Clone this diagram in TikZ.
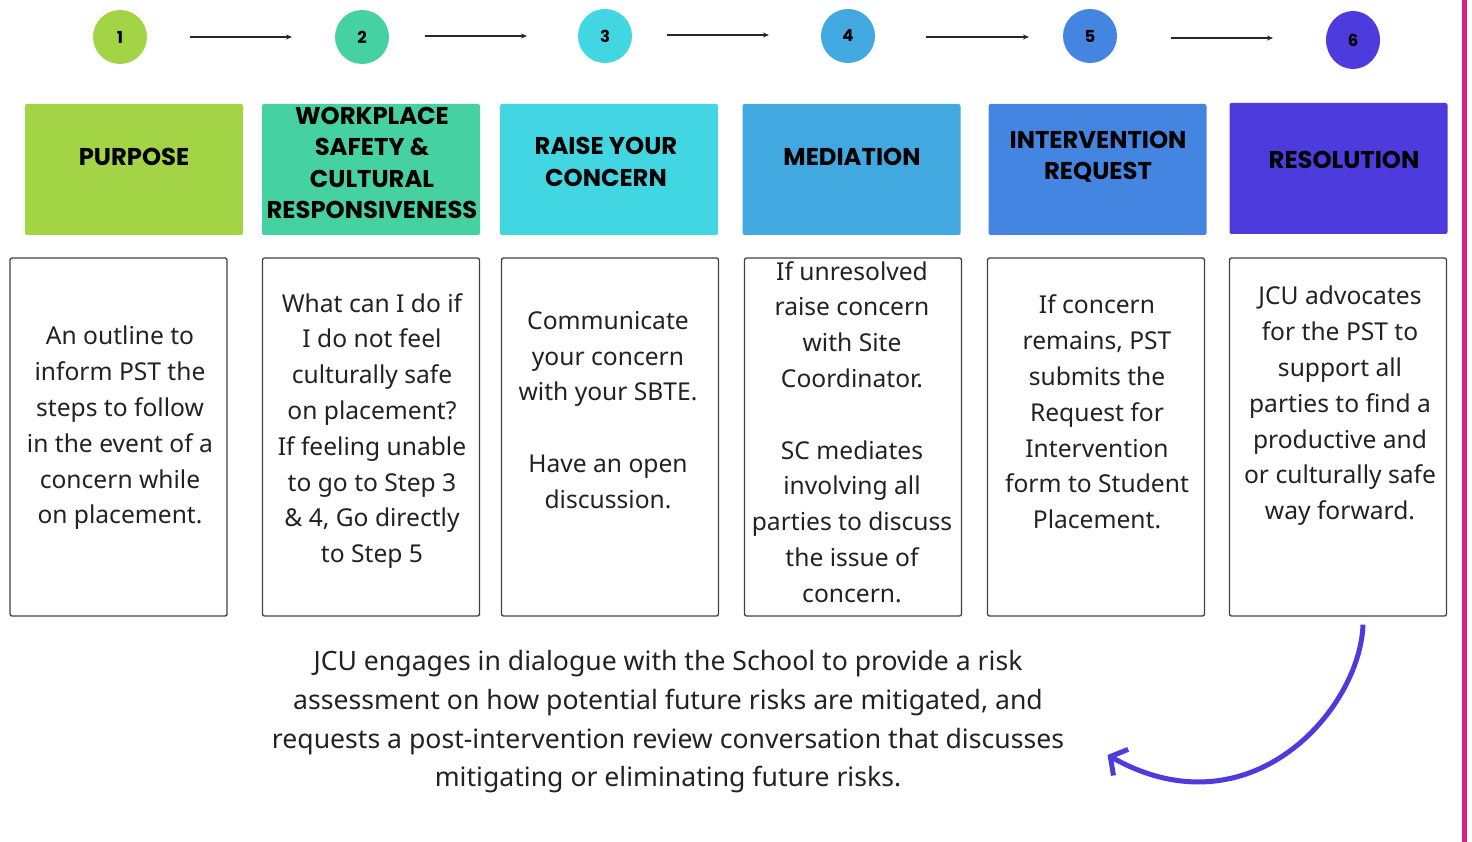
\documentclass[tikz,border=0pt]{standalone}
\usepackage{fontspec}
\setmainfont{Noto Sans}
\newfontfamily\headfont{Poppins}
\usetikzlibrary{arrows.meta,calc,shapes.geometric}
\definecolor{cA}{HTML}{A2D445}
\definecolor{cB}{HTML}{45D1A1}
\definecolor{cC}{HTML}{42D5E2}
\definecolor{cD}{HTML}{42A8E0}
\definecolor{cE}{HTML}{4385E0}
\definecolor{cF}{HTML}{4D3BDE}
\definecolor{pinkline}{HTML}{D9207F}
\definecolor{txt}{HTML}{222222}
\begin{document}
\begin{tikzpicture}[x=1pt,y=-1pt,
  circ/.style={ellipse,minimum width=54pt,minimum height=54pt,inner sep=0pt,font=\headfont\bfseries\fontsize{16.5}{18}\selectfont},
  head/.style={rectangle,rounded corners=2pt,minimum width=218pt,minimum height=131pt,inner sep=0pt},
  htext/.style={align=center,inner sep=0pt,font=\headfont\bfseries\fontsize{24.3}{31.3}\selectfont},
  body/.style={draw=black!75,line width=1.3pt,rounded corners=2pt,minimum width=217pt,minimum height=358pt,inner sep=0pt},
  btext/.style={align=center,text=txt,font=\fontsize{24.6}{35.8}\selectfont},
  flow/.style={-{Stealth[length=6pt,width=5pt]},line width=1.1pt,black!85}
]
\useasboundingbox (0,0) rectangle (1472,842);
\fill[pinkline] (1462,0) rectangle (1466.5,842);

% circles
\node[circ,fill=cA] (c1) at (120,37) {1};
\node[circ,fill=cB] (c2) at (362,37) {2};
\node[circ,fill=cC] (c3) at (605,36) {3};
\node[circ,fill=cD] (c4) at (848,36) {4};
\node[circ,fill=cE] (c5) at (1090,36) {5};
\node[circ,fill=cF,minimum height=58pt] (c6) at (1353,40) {6};

% arrows between circles
\coordinate (a1s) at (190,37); \coordinate (a1e) at (292,37);
\coordinate (a2s) at (425,36); \coordinate (a2e) at (527,36);
\coordinate (a3s) at (667,35); \coordinate (a3e) at (769,35);
\coordinate (a4s) at (926,37); \coordinate (a4e) at (1029,37);
\coordinate (a5s) at (1171,38); \coordinate (a5e) at (1273,38);
\draw[flow] (a1s) -- (a1e);
\draw[flow] (a2s) -- (a2e);
\draw[flow] (a3s) -- (a3e);
\draw[flow] (a4s) -- (a4e);
\draw[flow] (a5s) -- (a5e);

% heading boxes
\node[head,fill=cA] (h1) at (134,169.5) {};
\node[head,fill=cB] (h2) at (371,169.5) {};
\node[head,fill=cC] (h3) at (609,169.5) {};
\node[head,fill=cD] (h4) at (851.5,169.5) {};
\node[head,fill=cE] (h5) at (1097.5,169.5) {};
\node[head,fill=cF] (h6) at (1338.5,168.5) {};
\node[htext] (ht1) at (134,157) {PURPOSE};
\node[htext] (ht2) at (372,163) {WORKPLACE\\SAFETY \&\\CULTURAL\\RESPONSIVENESS};
\node[htext] (ht3) at (606,162) {RAISE YOUR\\CONCERN};
\node[htext] (ht4) at (852,157) {MEDIATION};
\node[htext] (ht5) at (1098,157) {INTERVENTION\\REQUEST};
\node[htext] (ht6) at (1344,160) {RESOLUTION};

% body boxes
\node[body] (b1) at (118.5,437) {};
\node[body] (b2) at (371,437) {};
\node[body] (b3) at (610,437) {};
\node[body] (b4) at (853,437) {};
\node[body] (b5) at (1096,437) {};
\node[body] (b6) at (1338,437) {};

% body texts
\node[btext] (t1) at (120,428) {An outline to\\inform PST the\\steps to follow\\in the event of a\\concern while\\on placement.};
\node[btext] (t2) at (372,431) {What can I do if\\I do not feel\\culturally safe\\on placement?\\If feeling unable\\to go to Step 3\\\& 4, Go directly\\to Step 5};
\node[btext] (t3) at (608,410) {Communicate\\your concern\\with your SBTE.\\[35.8pt]Have an open\\discussion.};
\node[btext] (t4) at (852,432) {If unresolved\\raise concern\\with Site\\Coordinator.\\[35.8pt]SC mediates\\involving all\\parties to discuss\\the issue of\\concern.};
\node[btext] (t5) at (1097,412) {If concern\\remains, PST\\submits the\\Request for\\Intervention\\form to Student\\Placement.};
\node[btext] (t6) at (1340,406) {JCU advocates\\for the PST to\\support all\\parties to find a\\productive and\\or culturally safe\\way forward.};

% bottom text
\node[align=center,text=txt,font=\fontsize{26.6}{38.7}\selectfont] (bt) at (668,722) {JCU engages in dialogue with the School to provide a risk\\assessment on how potential future risks are mitigated, and\\requests a post-intervention review conversation that discusses\\mitigating or eliminating future risks.};

% curved return arrow
\coordinate (rs) at ($(b6.south)+(25,8)$);
\coordinate (re) at ($(bt.east)+(40,33)$);
\draw[cF,line width=5pt,-{Straight Barb[length=12pt,width=30pt,line width=5pt]}]
  (rs) .. controls (1360,710) and (1250,835) .. (re);
\end{tikzpicture}
\end{document}
